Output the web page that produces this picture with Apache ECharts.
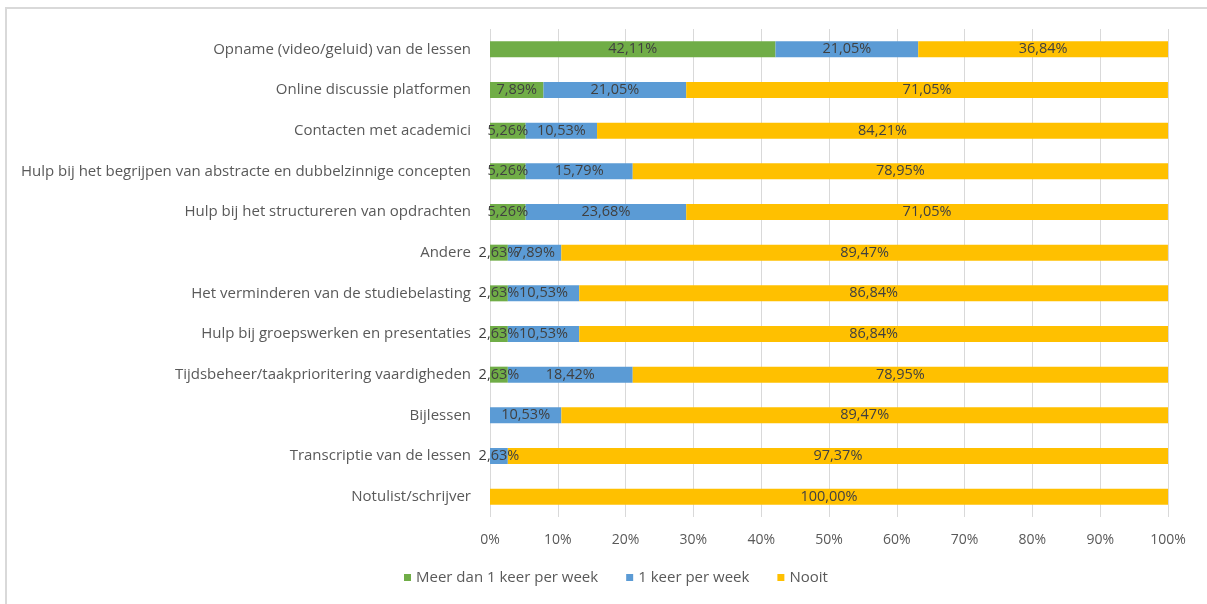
<!DOCTYPE html>
<html>
<head>
<meta charset="utf-8">
<script src="https://cdn.jsdelivr.net/npm/echarts@6/dist/echarts.min.js"></script>
<style>
  html, body { margin: 0; padding: 0; background: #fff; }
  #frame { position: absolute; left: 5px; top: 7px; width: 1220px; height: 620px;
           border-left: 2px solid #d9d9d9; border-top: 2px solid #d9d9d9; }
  #chart { position: absolute; left: 0; top: 0; width: 1207px; height: 604px; }
</style>
</head>
<body>
<div id="frame"></div>
<div id="chart"></div>
<script>
// Categories, listed bottom to top (category axis runs upward)
const categories = [
  'Notulist/schrijver',
  'Transcriptie van de lessen',
  'Bijlessen',
  'Tijdsbeheer/taakprioritering vaardigheden',
  'Hulp bij groepswerken en presentaties',
  'Het verminderen van de studiebelasting',
  'Andere',
  'Hulp bij het structureren van opdrachten',
  'Hulp bij het begrijpen van abstracte en dubbelzinnige concepten',
  'Contacten met academici',
  'Online discussie platformen',
  'Opname (video/geluid) van de lessen'
];

const seriesNames = ['Meer dan 1 keer per week', '1 keer per week', 'Nooit'];

const meerDanEenKeer = [0, 0, 0, 2.63, 2.63, 2.63, 2.63, 5.26, 5.26, 5.26, 7.89, 42.11];
const eenKeer        = [0, 2.63, 10.53, 18.42, 10.53, 10.53, 7.89, 23.68, 15.79, 10.53, 21.05, 21.05];
const nooit          = [100.00, 97.37, 89.47, 78.95, 86.84, 86.84, 89.47, 71.05, 78.95, 84.21, 71.05, 36.84];

const tickLabels = ['0%', '10%', '20%', '30%', '40%', '50%', '60%', '70%', '80%', '90%', '100%'];

const colors = ['#70AD47', '#5B9BD5', '#FFC000'];
const fontFamily = '"Open Sans", "DejaVu Sans", sans-serif';

function pct(v) {
  return v.toFixed(2).replace('.', ',') + '%';
}

function makeSeries(name, data, color) {
  return {
    name: name,
    type: 'bar',
    stack: 'total',
    barWidth: 16,
    data: data,
    itemStyle: { color: color },
    label: {
      show: true,
      position: 'inside',
      color: '#404040',
      fontFamily: fontFamily,
      fontSize: 14.5,
      formatter: p => (p.value > 0 ? pct(p.value) : '')
    },
    emphasis: { disabled: true }
  };
}

const chart = echarts.init(document.getElementById('chart'), null, { renderer: 'canvas' });
chart.setOption({
  animation: false,
  textStyle: { fontFamily: fontFamily },
  grid: { left: 490, right: 39, top: 29, bottom: 87, containLabel: false },
  xAxis: {
    type: 'value',
    min: 0,
    max: 100,
    interval: 10,
    axisLine: { show: false },
    axisTick: { show: false },
    splitLine: { show: true, lineStyle: { color: '#d9d9d9', width: 1 } },
    axisLabel: {
      color: '#595959',
      fontSize: 14,
      fontFamily: fontFamily,
      margin: 16,
      formatter: v => tickLabels[Math.round(v / 10)]
    }
  },
  yAxis: {
    type: 'category',
    data: categories,
    axisLine: { show: false },
    axisTick: { show: false },
    axisLabel: {
      color: '#595959',
      fontSize: 15,
      fontFamily: fontFamily,
      margin: 19
    }
  },
  legend: {
    bottom: 14,
    left: 399,
    itemWidth: 7,
    itemHeight: 7,
    itemGap: 28,
    icon: 'rect',
    textStyle: { color: '#595959', fontSize: 15, fontFamily: fontFamily },
    data: seriesNames
  },
  series: [
    makeSeries(seriesNames[0], meerDanEenKeer, colors[0]),
    makeSeries(seriesNames[1], eenKeer, colors[1]),
    makeSeries(seriesNames[2], nooit, colors[2])
  ]
});
</script>
</body>
</html>
